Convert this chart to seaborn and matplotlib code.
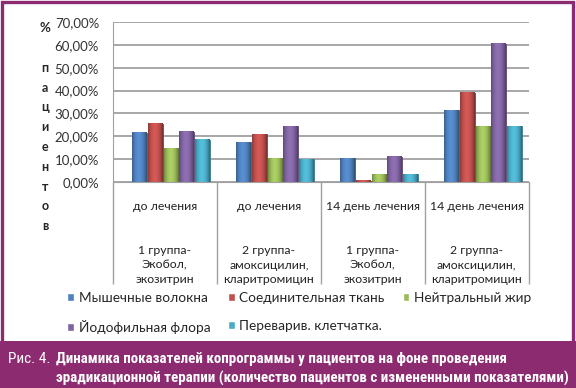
import numpy as np
import pandas as pd
import seaborn as sns
import matplotlib.pyplot as plt
from matplotlib.patches import Rectangle
from matplotlib.ticker import FuncFormatter

# Данные (доля пациентов, %)
groups = [
    "до лечения\n\n\n1 группа-\nЭкобол,\nэкозитрин",
    "до лечения\n\n\n2 группа-\nамоксицилин,\nкларитромицин",
    "14 день лечения\n\n\n1 группа-\nЭкобол,\nэкозитрин",
    "14 день лечения\n\n\n2 группа-\nамоксицилин,\nкларитромицин",
]
series = ["Мышечные волокна", "Соединительная ткань", "Нейтральный жир",
          "Йодофильная флора", "Переварив. клетчатка."]
muscle = [21.5, 17.5, 10.5, 31.5]
connective = [25.5, 21.0, 0.5, 39.0]
fat = [14.5, 10.5, 3.5, 24.5]
iodophil = [22.0, 24.5, 11.0, 60.5]
fiber = [18.5, 10.0, 3.5, 24.5]
yticks = [0, 10, 20, 30, 40, 50, 60, 70]

colors = ["#4F81BD", "#C0504D", "#9BBB59", "#8064A2", "#4BACC6"]
purple = "#8C2B70"

rows = []
for name, vals in zip(series, [muscle, connective, fat, iodophil, fiber]):
    for g, v in zip(groups, vals):
        rows.append({"group": g, "series": name, "value": v})
df = pd.DataFrame(rows)

sns.set_style("white")
plt.rcParams["font.family"] = ["Lato", "DejaVu Sans"]

fig = plt.figure(figsize=(5.76, 3.88), dpi=100)
fig.patch.set_facecolor("white")
ax = fig.add_axes([0.196, 0.531, 0.722, 0.412])

sns.barplot(data=df, x="group", y="value", hue="series", palette=colors,
            width=0.76, gap=0.06, ax=ax, legend=True, saturation=1)

# имитация цилиндров: горизонтальный градиент внутри каждого столбца
t = np.linspace(0, 1, 40)
shade = 0.72 + 0.45 * np.sin(np.pi * t) ** 0.8 - 0.12 * t
for p in list(ax.patches):
    if p.get_height() <= 0:
        continue
    base = np.array(p.get_facecolor()[:3])
    grad = np.clip(base[None, :] * shade[:, None], 0, 1)[None, :, :]
    x0, y0 = p.get_x(), p.get_y()
    ax.imshow(grad, extent=(x0, x0 + p.get_width(), y0, y0 + p.get_height()),
              aspect="auto", clip_path=p, zorder=p.get_zorder() + 0.1,
              interpolation="bilinear")
    p.set_edgecolor(tuple(base * 0.7))
    p.set_linewidth(0.6)

# столбцы в оригинале чуть смещены вправо (перспектива)
shift = 0.06
ax.set_ylim(0, 70)
ax.set_xlim(-0.5 - shift, 3.5 - shift)
ax.set_xticks([i - shift for i in range(len(groups))], labels=groups)
ax.set_yticks(yticks)
ax.yaxis.set_major_formatter(FuncFormatter(lambda v, _: f"{v:.2f}%".replace(".", ",")))
ax.grid(axis="y", color="#A0A0A0", linewidth=1.3)
ax.set_axisbelow(True)
ax.set_xlabel("")
ax.set_ylabel("")
for s in ["top", "right"]:
    ax.spines[s].set_visible(False)
ax.spines["left"].set_color("#A0A0A0")
ax.spines["bottom"].set_color("#A0A0A0")
ax.tick_params(axis="y", labelsize=9.5, length=4, color="#A0A0A0", pad=6, labelcolor="#333333")
ax.tick_params(axis="x", labelsize=8.8, length=0, pad=14, labelcolor="#222222")
for lab in ax.get_xticklabels():
    lab.set_linespacing(1.4)
    lab.set_verticalalignment("top")

# разделители категорий
ax.vlines([i - 0.5 - shift for i in range(len(groups) + 1)], -0.64, 0,
          transform=ax.get_xaxis_transform(), color="#A0A0A0", linewidth=1, clip_on=False)

# легенда
h, l = ax.get_legend_handles_labels()
order = [0, 3, 1, 4, 2]
ax.legend([h[i] for i in order], [l[i] for i in order], ncol=3,
          loc="center left", bbox_to_anchor=(67 / 576, 1 - 313 / 388),
          bbox_transform=fig.transFigure, frameon=False, fontsize=9.8,
          handlelength=0.5, handleheight=0.5, handletextpad=0.35,
          columnspacing=1.3, labelspacing=1.15, borderaxespad=0, borderpad=0)

# подпись оси
fig.text(45 / 576, 1 - 28 / 388, "%", ha="center", va="center", fontsize=9.5, fontweight="bold")
fig.text(45 / 576, 1 - 147 / 388, "\n".join("пациентов"), ha="center", va="center",
         fontsize=9, fontweight="bold", linespacing=1.78)

# рамка и полоса с подписью
fig.patches.append(Rectangle((0.004, 0.005), 0.99, 0.99, transform=fig.transFigure,
                             fill=False, edgecolor=purple, linewidth=2.4))
fig.patches.append(Rectangle((0, 0), 1, 47 / 388, transform=fig.transFigure,
                             facecolor=purple, edgecolor="none"))
cap = ["Roboto Condensed", "Liberation Sans Narrow", "Roboto"]
fig.text(8 / 576, 1 - 359 / 388, "Рис. 4.", color="white", fontsize=11,
         va="center", family=cap)
fig.text(56 / 576, 1 - 359 / 388,
         "Динамика показателей копрограммы у пациентов на фоне проведения",
         color="white", fontsize=10.8, fontweight="bold", va="center", family=cap)
fig.text(56 / 576, 1 - 378 / 388,
         "эрадикационной терапии (количество пациентов с измененными показателями)",
         color="white", fontsize=10.8, fontweight="bold", va="center", family=cap)

fig.savefig("out.png", dpi=100)
